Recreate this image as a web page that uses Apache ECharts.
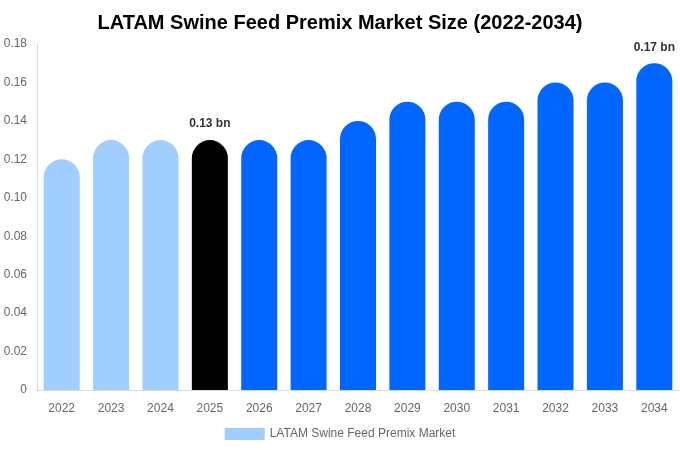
<!DOCTYPE html>
<html>
<head>
<meta charset="utf-8">
<script src="https://cdn.jsdelivr.net/npm/echarts@6/dist/echarts.min.js"></script>
<style>html,body{margin:0;padding:0;background:#fff}#c{width:680px;height:450px}</style>
</head>
<body>
<div id="c"></div>
<script>
const categories = ['2022','2023','2024','2025','2026','2027','2028','2029','2030','2031','2032','2033','2034'];
const values = [0.12,0.13,0.13,0.13,0.13,0.13,0.14,0.15,0.15,0.15,0.16,0.16,0.17];
const barColors = ['#a0cfff','#a0cfff','#a0cfff','#000000','#0066ff','#0066ff','#0066ff','#0066ff','#0066ff','#0066ff','#0066ff','#0066ff','#0066ff'];
const labeled = ['2025','2034'];
const yTicks = [0,0.02,0.04,0.06,0.08,0.10,0.12,0.14,0.16,0.18];

const chart = echarts.init(document.getElementById('c'));
chart.setOption({
  animation:false,
  title:{text:'LATAM Swine Feed Premix Market Size (2022-2034)',left:'center',top:8,
    textStyle:{fontFamily:'Liberation Sans, Arial',fontSize:20,fontWeight:'bold',color:'#000'}},
  legend:{bottom:5,left:'center',itemWidth:40,itemHeight:12,icon:'rect',
    textStyle:{fontFamily:'Liberation Sans, Arial',fontSize:12,color:'#666'},
    data:[{name:'LATAM Swine Feed Premix Market',itemStyle:{color:'#a0cfff'}}]},
  grid:{left:37,right:1,top:44,bottom:60},
  xAxis:{type:'category',data:categories,
    axisLine:{lineStyle:{color:'#ddd'}},axisTick:{show:false},
    axisLabel:{color:'#666',fontSize:12,margin:13,fontFamily:'Liberation Sans, Arial'}},
  yAxis:{type:'value',min:0,max:0.18,interval:0.02,
    axisLine:{show:true,lineStyle:{color:'#ddd'}},axisTick:{show:false},splitLine:{show:false},
    axisLabel:{color:'#666',fontSize:12,margin:10,fontFamily:'Liberation Sans, Arial',
      formatter:v=>{const t=yTicks.find(x=>Math.abs(x-v)<1e-9);return t===0?'0':(t!==undefined?t.toFixed(2):v.toFixed(2));}}},
  series:[{name:'LATAM Swine Feed Premix Market',type:'bar',barWidth:36,
    data:values.map((v,i)=>({value:v,itemStyle:{color:barColors[i],borderRadius:[18,18,0,0]},
      label:{show:labeled.includes(categories[i]),position:'top',distance:10,
        formatter:p=>p.value.toFixed(2)+' bn',fontWeight:'bold',fontSize:12,color:'#333',fontFamily:'Liberation Sans, Arial'}}))
  }]
});
</script>
</body>
</html>
